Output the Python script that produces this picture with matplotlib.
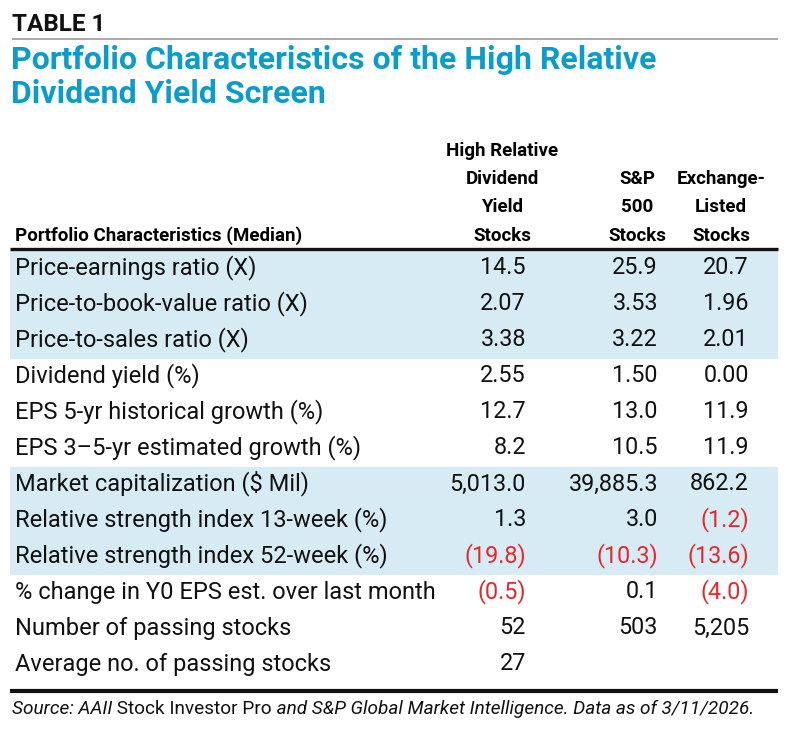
import matplotlib
matplotlib.use("Agg")
import matplotlib.pyplot as plt
from matplotlib.patches import Rectangle

plt.rcParams['font.family'] = ['Roboto', 'DejaVu Sans']

# data
label_header = "Portfolio Characteristics (Median)"
col_headers = ["High Relative\nDividend\nYield\nStocks", "S&P\n500\nStocks", "Exchange-\nListed\nStocks"]
row_labels = [
    "Price-earnings ratio (X)",
    "Price-to-book-value ratio (X)",
    "Price-to-sales ratio (X)",
    "Dividend yield (%)",
    "EPS 5-yr historical growth (%)",
    "EPS 3\u20135-yr estimated growth (%)",
    "Market capitalization ($ Mil)",
    "Relative strength index 13-week (%)",
    "Relative strength index 52-week (%)",
    "% change in Y0 EPS est. over last month",
    "Number of passing stocks",
    "Average no. of passing stocks",
]
high_rel_div = ["14.5", "2.07", "3.38", "2.55", "12.7", "8.2", "5,013.0", "1.3", "(19.8)", "(0.5)", "52", "27"]
sp500 = ["25.9", "3.53", "3.22", "1.50", "13.0", "10.5", "39,885.3", "3.0", "(10.3)", "0.1", "503", ""]
exchange = ["20.7", "1.96", "2.01", "0.00", "11.9", "11.9", "862.2", "(1.2)", "(13.6)", "(4.0)", "5,205", ""]
shaded_groups = [(0, 3), (6, 9)]  # (first row, end row)

BLUE = "#0a9cca"
BAND = "#d7ebf5"
RED = "#e8272b"

fig = plt.figure(figsize=(7.88, 7.38), dpi=100)
ax = fig.add_axes([0, 0, 1, 1])
ax.set_xlim(0, 788)
ax.set_ylim(738, 0)
ax.axis("off")

# heading
ax.text(12, 31, "TABLE 1", fontsize=17.5, fontweight="bold", color="#111111", va="baseline")
ax.plot([12, 778], [38.5, 38.5], color="#9a9a9a", lw=1.2, solid_capstyle="butt")
ax.text(11, 69, "Portfolio Characteristics of the High Relative", fontsize=23,
        fontweight="bold", color=BLUE, va="baseline")
ax.text(11, 103, "Dividend Yield Screen", fontsize=23, fontweight="bold", color=BLUE, va="baseline")

# column header
col_right = [526, 658, 749]
col_center = [502, 637, 721]
line_gap = 28.5
ax.text(15, 241, label_header, fontsize=13.5, fontweight="bold", va="baseline")
for c, h in enumerate(col_headers):
    lines = h.split("\n")
    for k, ln in enumerate(lines):
        y = 241 - (len(lines) - 1 - k) * line_gap
        ax.text(col_center[c], y, ln, fontsize=13.5, fontweight="bold", ha="center", va="baseline")

ax.plot([10, 778], [249, 249], color="#111111", lw=2.4, solid_capstyle="butt")

# rows
top = 250.5
row_h = 36
for start, end in shaded_groups:
    ax.add_patch(Rectangle((10, top + start * row_h), 768, (end - start) * row_h,
                           facecolor=BAND, edgecolor="none", zorder=0))

for i, lab in enumerate(row_labels):
    base = top + i * row_h + 24
    ax.text(15, base, lab, fontsize=17, va="baseline", color="#111111")
    for c, vals in enumerate([high_rel_div, sp500, exchange]):
        v = vals[i]
        if not v:
            continue
        col = RED if v.startswith("(") else "#111111"
        ax.text(col_right[c], base, v, fontsize=16.8, ha="right", va="baseline", color=col)

ax.plot([10, 778], [691, 691], color="#111111", lw=3, solid_capstyle="butt")

# source line, mixed italic / roman
fig.canvas.draw()
r = fig.canvas.get_renderer()
x = 12
for txt, st in [("Source: AAII", "italic"), (" Stock Investor Pro", "normal"),
                (" and S&P Global Market Intelligence. Data as of 3/11/2026.", "italic")]:
    t = ax.text(x, 714, txt, fontsize=13.7, style=st, va="baseline", color="#111111")
    bb = t.get_window_extent(renderer=r)
    x += bb.width

fig.savefig("out.png", dpi=100)
